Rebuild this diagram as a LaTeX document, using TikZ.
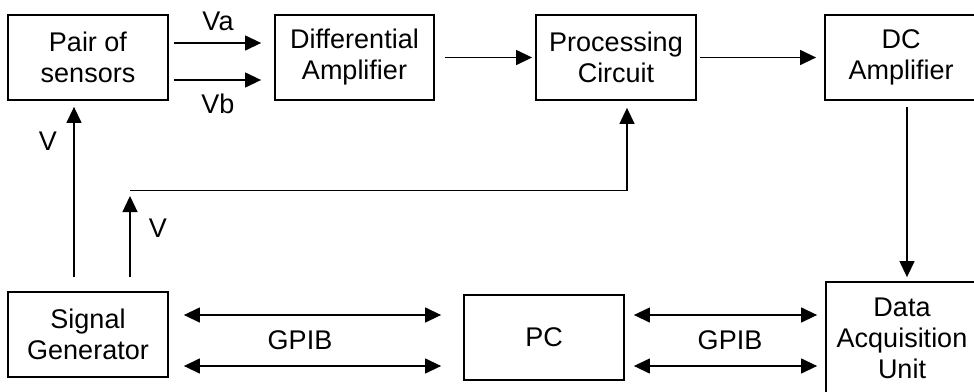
\documentclass[tikz,border=0pt]{standalone}
\usepackage{fontspec}
\setmainfont{Liberation Sans}
\usetikzlibrary{arrows.meta}
\tikzset{
  blk/.style={draw, line width=1.8pt, minimum width=160pt, minimum height=85pt, inner sep=0pt, align=center, font=\fontsize{27}{31}\selectfont},
  lbl/.style={inner sep=0pt, font=\fontsize{27}{31}\selectfont},
  arr/.style={line width=1.3pt, -{Triangle[length=16pt,width=15pt]}},
  dbl/.style={line width=1.3pt, {Triangle[length=16pt,width=15pt]}-{Triangle[length=16pt,width=15pt]}},
  ln/.style={line width=1.3pt}
}
\begin{document}
\begin{tikzpicture}[x=1pt,y=-1pt]
\useasboundingbox (0,0) rectangle (974,391);
\clip (0,0) rectangle (974,391);
\fill[white] (0,0) rectangle (974,391);
% blocks
\node[blk] (sens) at (88,57.5) {Pair of\\sensors};
\node[blk, minimum width=159pt] (diff) at (354.5,57.5) {Differential\\Amplifier};
\node[blk] (proc) at (616,57.5) {Processing\\Circuit};
\node[blk, minimum width=152pt] (dc) at (901,57.5) {DC\\Amplifier};
\node[blk] (sg) at (88,334.5) {Signal\\Generator};
\node[blk] (pc) at (544,337.5) {PC};
\node[blk, minimum width=152pt, minimum height=112pt] (daq) at (902,338) {Data\\Acquisition\\Unit};
% labels
\node[lbl] (va) at (218,21) {Va};
\node[lbl] (vb) at (218,104) {Vb};
\node[lbl] (v1) at (48,141) {V};
\node[lbl] (v2) at (158,228) {V};
\node[lbl] (g1) at (300,340) {GPIB};
\node[lbl] (g2) at (730,340) {GPIB};
% connectors top row
\draw[arr, shorten <=5pt, shorten >=13pt] ([yshift=14.5pt]sens.east) -- ([yshift=14.5pt]diff.west);
\draw[arr, shorten <=5pt, shorten >=13pt] ([yshift=-22.5pt]sens.east) -- ([yshift=-22.5pt]diff.west);
\draw[arr, shorten <=10pt, shorten >=3pt] (diff.east) -- (proc.west);
\draw[arr, shorten <=3pt, shorten >=8pt] (proc.east) -- (dc.west);
\draw[arr, shorten <=6pt, shorten >=4pt] ([xshift=6pt]dc.south) -- ([xshift=6pt]dc.south |- daq.north);
% signal generator outputs
\draw[arr, shorten <=14pt, shorten >=6pt] ([xshift=-14pt]sg.north) -- ([xshift=-14pt]sg.north |- sens.south);
\coordinate (fb) at (130,190.5);
\draw[arr, shorten <=14pt, shorten >=5.5pt] (sg.north -| fb) -- (fb);
\draw[arr, shorten >=7pt] (fb) -| ([xshift=11pt]proc.south);
% GPIB links
\draw[dbl, shorten <=15pt, shorten >=22pt] (sg.east |- 0,315) -- (pc.west |- 0,315);
\draw[dbl, shorten <=15pt, shorten >=22pt] (sg.east |- 0,366) -- (pc.west |- 0,366);
\draw[dbl, shorten <=9pt, shorten >=8pt] (pc.east |- 0,315) -- (daq.west |- 0,315);
\draw[dbl, shorten <=9pt, shorten >=8pt] (pc.east |- 0,366) -- (daq.west |- 0,366);
\end{tikzpicture}
\end{document}
